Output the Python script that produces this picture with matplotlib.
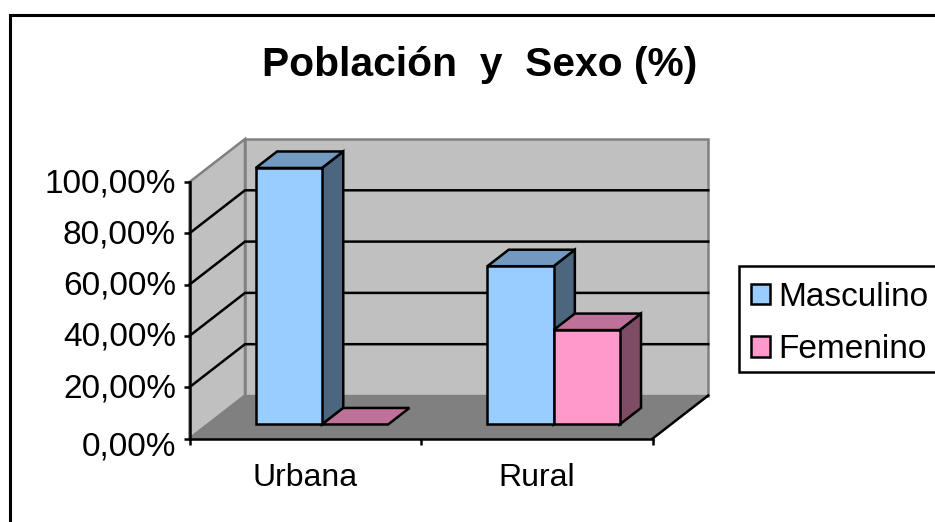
import matplotlib
matplotlib.use("Agg")
import matplotlib.pyplot as plt
from matplotlib.patches import Polygon, Rectangle, Patch
from matplotlib.ticker import FuncFormatter
from matplotlib.transforms import ScaledTranslation

categories = ["Urbana", "Rural"]
series_names = ["Masculino", "Femenino"]
masculino = [100.0, 61.7]
femenino = [0.0, 36.8]
y_ticks = [0, 20, 40, 60, 80, 100]

FRONT = ["#99CCFF", "#FF99CC"]
TOP = ["#7299BF", "#BF7299"]
SIDE = ["#4C667F", "#7F4C66"]
WALL = "#C0C0C0"
FLOOR = "#808080"
LW = 1.8

W, H = 935, 522
plt.rcParams["font.family"] = ["Liberation Sans", "DejaVu Sans"]
fig = plt.figure(figsize=(W / 100, H / 100), dpi=100, facecolor="white")

# front plane of the 3-D box in figure pixels
L, R, B, T = 189.5, 652.7, 438.5, 182.0
ax = fig.add_axes([L / W, 1 - B / H, (R - L) / W, (B - T) / H])
ax.set_xlim(0, len(categories))
ax.set_ylim(0, 100)
ax.patch.set_visible(False)

# oblique depth in data units per unit depth
DX = 55.5 / ((R - L) / len(categories))
DY = 43.0 / ((B - T) / 100)
def P(x, y, z=0.0):
    return (x + DX * z, y + DY * z)

def poly(points, fc, ec="black", lw=LW, z=2):
    ax.add_patch(Polygon(points, closed=True, facecolor=fc, edgecolor=ec, linewidth=lw,
                         joinstyle="miter", clip_on=False, zorder=z))

n = len(categories)
top = y_ticks[-1]
# walls and floor
poly([P(0, 0), P(0, 0, 1), P(0, top, 1), P(0, top)], WALL, ec=FLOOR, lw=1.8, z=1)
poly([P(0, 0, 1), P(n, 0, 1), P(n, top, 1), P(0, top, 1)], WALL, ec=FLOOR, lw=1.8, z=1)
poly([P(0, 0), P(n, 0), P(n, 0, 1), P(0, 0, 1)], FLOOR, ec=FLOOR, lw=1.0, z=1.2)
ax.plot(*zip(P(n, 0), P(n, 0, 1)), color="black", lw=LW, clip_on=False, zorder=1.3)

# gridlines
for v in y_ticks[1:-1]:
    ax.plot(*zip(P(0, v), P(0, v, 1), P(n, v, 1)), color="black", lw=LW,
            clip_on=False, zorder=1.5, solid_joinstyle="miter")

# bars
BAR_W = 1 / 3.5
GAP = 0.208
Z0, Z1 = 0.326, 0.71
zo = 3
for i in range(n):
    for s, vals in enumerate([masculino, femenino]):
        v = vals[i]
        x0 = i + GAP + s * BAR_W
        x1 = x0 + BAR_W
        if v > 0:
            poly([P(x1, 0, Z0), P(x1, 0, Z1), P(x1, v, Z1), P(x1, v, Z0)], SIDE[s], z=zo)
        poly([P(x0, v, Z0), P(x1, v, Z0), P(x1, v, Z1), P(x0, v, Z1)], TOP[s], z=zo + 0.1)
        if v > 0:
            poly([P(x0, 0, Z0), P(x1, 0, Z0), P(x1, v, Z0), P(x0, v, Z0)], FRONT[s], z=zo + 0.2)
        zo += 1

# axes
for sp in ("top", "right"):
    ax.spines[sp].set_visible(False)
for sp in ("left", "bottom"):
    ax.spines[sp].set_linewidth(LW)
    ax.spines[sp].set_zorder(20)
ax.set_yticks(y_ticks)
ax.yaxis.set_major_formatter(FuncFormatter(lambda v, _: f"{v:.2f}".replace(".", ",") + "%"))
ax.set_xticks(range(n + 1))
ax.set_xticklabels([])
ax.set_xticks([i + 0.5 for i in range(n)], minor=True)
ax.set_xticklabels(categories, minor=True)
ax.tick_params(axis="y", length=4.3, width=LW, pad=5.5, labelsize=24)
ax.tick_params(axis="x", which="major", length=4.3, width=LW)
ax.tick_params(axis="x", which="minor", length=0, pad=18, labelsize=23)
for tick, v in zip(ax.yaxis.get_major_ticks(), y_ticks):
    shift = -4.5 if v == 0 else 2.0
    lab = tick.label1
    lab.set_transform(lab.get_transform() + ScaledTranslation(0, shift / 72 * 0.72, fig.dpi_scale_trans))

# legend
handles = [Patch(facecolor=FRONT[k], edgecolor="black", linewidth=LW, label=series_names[k])
           for k in range(2)]
fig.add_artist(Rectangle((738.5 / W, 1 - 371.5 / H), 0.3, 106 / H, transform=fig.transFigure,
                         facecolor="white", edgecolor="black", linewidth=LW))
leg = fig.legend(handles=handles, loc="upper left",
                 bbox_to_anchor=(751 / W, 1 - 281.5 / H), bbox_transform=fig.transFigure,
                 fontsize=24, frameon=False,
                 borderaxespad=0, borderpad=0, handlelength=0.56, handleheight=0.56,
                 handletextpad=0.26, labelspacing=0.655)

# title and outer frame
fig.text(480 / W, 1 - 65 / H, "Población  y  Sexo (%)", ha="center", va="center",
         fontsize=29.3, fontweight="bold")
fig.add_artist(Rectangle((9.5 / W, -0.1), 1.1, 0.1 + (1 - 14.5 / H), transform=fig.transFigure,
                         facecolor="none", edgecolor="black", linewidth=2.2))

fig.savefig("out.png", dpi=100)
